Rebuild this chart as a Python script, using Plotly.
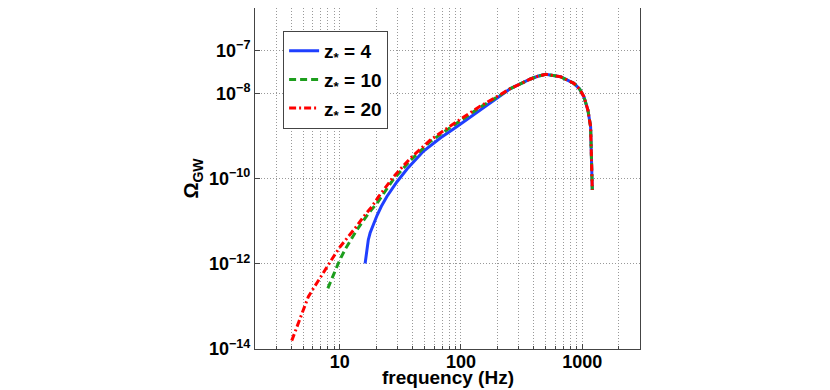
import plotly.graph_objects as go

# --- values (frequency in Hz, Omega_GW) ---
FREQ_Z4 = [16.2, 16.7, 17.2, 17.8, 18.9, 20.3, 22.0, 24.5, 29.7, 35.9, 49.2,
           67.6, 92.9, 119.6, 175, 212]
OMEGA_Z4 = [1.01e-12, 2.34e-12, 3.61e-12, 5.26e-12, 8.33e-12, 1.355e-11, 2.20e-11,
            3.78e-11, 8.4e-11, 1.67e-10, 4.42e-10, 8.9e-10, 1.66e-9, 2.77e-9,
            5.9e-9, 8.8e-9]

FREQ_Z10 = [7.98, 8.77, 9.47, 10.27, 11.2, 13.85, 17.3, 20.27, 27.8, 38.2,
            55.9, 81.8, 144.7, 212]
OMEGA_Z10 = [2.65e-13, 5.2e-13, 8.5e-13, 1.42e-12, 2.30e-12, 6.2e-12, 1.53e-11,
             2.62e-11, 9.7e-11, 2.64e-10, 7.4e-10, 1.57e-9, 4.75e-9, 9.1e-9]

FREQ_Z20 = [4.02, 4.56, 4.96, 5.51, 6.07, 6.89, 7.83, 8.88, 10.08, 11.8, 13.85,
            15.7, 18.4, 20.9, 27.8, 38.2, 55.9, 81.8, 144.7, 212]
OMEGA_Z20 = [1.57e-14, 4.0e-14, 8.2e-14, 1.69e-13, 2.65e-13, 4.8e-13, 8.5e-13,
             1.46e-12, 2.51e-12, 4.3e-12, 7.7e-12, 1.27e-11, 2.18e-11, 3.74e-11,
             1.10e-10, 2.98e-10, 8.0e-10, 1.71e-9, 5.0e-9, 9.35e-9]

# high-frequency part, common to all three curves
FREQ_TAIL = [256, 375, 430, 499, 580, 663, 854, 952, 1033, 1078, 1115, 1174,
             1190, 1197, 1212]
OMEGA_TAIL = [1.29e-8, 2.16e-8, 2.50e-8, 2.79e-8, 2.63e-8, 2.44e-8, 1.71e-8,
              1.26e-8, 8.3e-9, 5.9e-9, 4.05e-9, 1.64e-9, 5.57e-10, 1.89e-10,
              5.37e-11]

Y_TICKS = [1e-14, 1e-12, 1e-10, 1e-8, 1e-7]
Y_TICKTEXT = ["10<sup>\u221214</sup>", "10<sup>\u221212</sup>", "10<sup>\u221210</sup>",
              "10<sup>\u22128</sup>", "10<sup>\u22127</sup>"]
X_TICKS = [10, 100, 1000]
X_TICKTEXT = ["10", "100", "1000"]

SERIES = [
    ("<b>z<sub>*</sub> = 4</b>", FREQ_Z4, OMEGA_Z4, "#1f3fff", "solid"),
    ("<b>z<sub>*</sub> = 10</b>", FREQ_Z10, OMEGA_Z10, "#1d9e1d", "7px,4px"),
    ("<b>z<sub>*</sub> = 20</b>", FREQ_Z20, OMEGA_Z20, "#ff0000", "7px,3px,2px,3px"),
]

FONT = "Liberation Sans, Arial, Helvetica, sans-serif"

fig = go.Figure()
for i, (name, f, om, color, dash) in enumerate(SERIES):
    fig.add_trace(go.Scatter(
        x=f + FREQ_TAIL, y=om + OMEGA_TAIL, name=name, mode="lines",
        line=dict(color=color, width=3, dash=dash),
        legendgroup=f"g{i}",
    ))

axis_common = dict(
    type="log", showline=True, mirror=True, linecolor="#444", linewidth=1,
    ticks="inside", ticklen=5, tickcolor="#444",
    showgrid=True, gridcolor="#999", griddash="1px,2px", gridwidth=1,
    zeroline=False, automargin=False,
    tickfont=dict(family=FONT, size=18, color="black", weight="bold"),
)

fig.update_xaxes(
    **axis_common,
    range=[0.30103, 3.4771],
    tickmode="array", tickvals=X_TICKS, ticktext=X_TICKTEXT,
    ticklabelstandoff=-4,
    minor=dict(dtick="D1", ticks="inside", ticklen=3, tickcolor="#444",
               showgrid=True, gridcolor="#999", griddash="1px,2px"),
)
fig.update_yaxes(
    **axis_common,
    range=[-14, -6],
    tickmode="array", tickvals=Y_TICKS, ticktext=Y_TICKTEXT,
    title=dict(text="<b>\u03a9<sub>GW</sub></b>", standoff=4,
               font=dict(family=FONT, size=20, color="black")),
)

# x axis title placed as an annotation so it sits just under the tick labels
fig.add_annotation(
    text="<b>frequency (Hz)</b>", xref="paper", yref="paper",
    x=0.5, y=-0.05, xanchor="center", yanchor="top", showarrow=False,
    borderpad=0,
    font=dict(family=FONT, size=19, color="black"),
)

# the page body adds an 8px offset, margins compensate for it
fig.update_layout(
    width=830, height=390,
    margin=dict(l=247, r=198, t=0, b=49),
    paper_bgcolor="white", plot_bgcolor="white",
    font=dict(family=FONT, color="black"),
    showlegend=True,
    legend=dict(
        x=0.073, y=0.933, xanchor="left", yanchor="top",
        bgcolor="white", bordercolor="#444", borderwidth=1,
        font=dict(family=FONT, size=19, color="black"),
        tracegroupgap=1, itemwidth=30,
    ),
)

fig.write_html("out.html")
